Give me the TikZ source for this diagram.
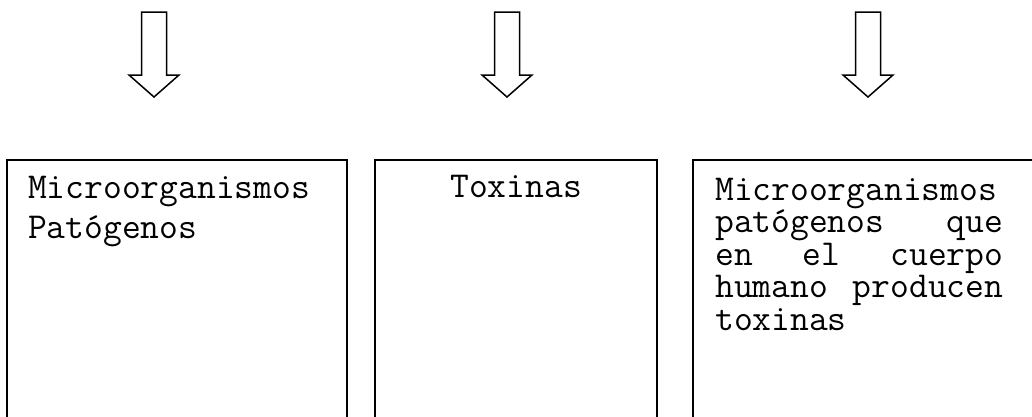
\documentclass[tikz,border=0pt]{standalone}
\usepackage{fontspec}
\usepackage{tikz}

\tikzset{
  caja/.style={line width=1.5pt},
  flecha/.style={line width=1.5pt,line join=miter},
  texto/.style={inner sep=0pt,anchor=base west}
}

\begin{document}
\begin{tikzpicture}[x=1pt,y=-1pt]
      \useasboundingbox (0,0) rectangle (1032,416);
      \clip (0,0) rectangle (1032,416);
      % hollow arrows
      \foreach \x/\n in {154/uno,507/dos,868/tres}
        \draw[flecha] (\x,12) coordinate (\n) +(-12.5,0) -- +(12.5,0) -- +(12.5,63) -- +(25,63) -- +(0,85) -- +(-25,63) -- +(-12.5,63) -- cycle;
      % boxes
      \draw[caja] (7,160) rectangle (347,440);
      \draw[caja] (375,160) rectangle (657,440);
      \draw[caja] (693,160) rectangle (1045,440);
      \node[texto] (patogenos) at (28,198) {\parbox[t]{288pt}{\ttfamily\fontsize{36.5}{40}\selectfont\raggedright
        Microorganismos\\Patógenos}};
      \node[inner sep=0pt,anchor=base] (toxinas) at (516,197) {\ttfamily\fontsize{36.5}{40}\selectfont Toxinas};
      \node[texto] (productores) at (715,200) {\parbox[t]{288pt}{\ttfamily\fontsize{36.5}{32.5}\selectfont
        Microorganismos\\patógenos\hfill que\\en\hfill el\hfill cuerpo\\humano\hfill producen\\toxinas\hfill\null}};
    \end{tikzpicture}
\end{document}
